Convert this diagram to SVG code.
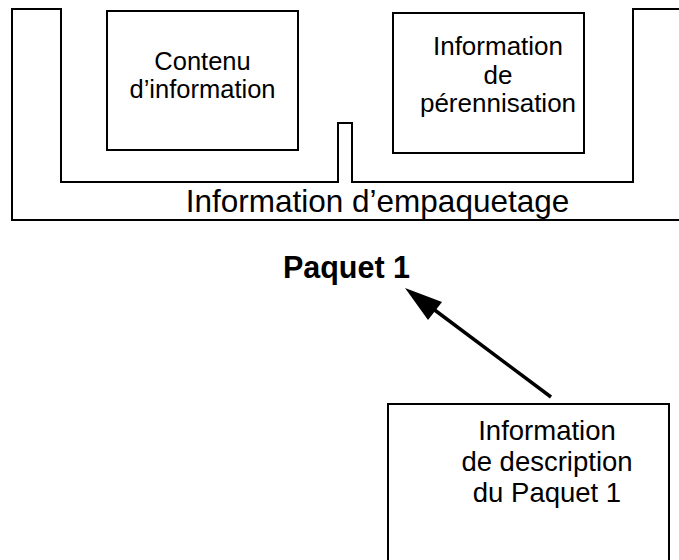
<svg xmlns="http://www.w3.org/2000/svg" width="679" height="560" viewBox="0 0 679 560">
<style>
.ln{fill:none;stroke:#000;stroke-width:2}
.t{font-family:"Liberation Sans",Arial,sans-serif;fill:#000;text-anchor:middle}
.s25{font-size:25.5px}
.s26{font-size:26px}
.s30{font-size:31.5px}
.b{font-weight:bold;font-size:30.5px}
.d{font-size:27.5px}
</style>
<rect width="679" height="560" fill="#fff"/>
<g id="packaging">
<path class="ln" d="M679,220 H12 V9 H61 V182 H338 V123 H352 V182 H633 V9 H679"/>
<text class="t s30" x="377.5" y="212">Information d’empaquetage</text>
</g>
<g id="content">
<rect class="ln" x="107" y="11" width="191" height="139"/>
<text class="t s25" x="202.5" y="70">Contenu</text>
<text class="t s25" x="202.5" y="98">d’information</text>
</g>
<g id="preservation">
<rect class="ln" x="393" y="13" width="191" height="140"/>
<text class="t s26" x="498" y="55">Information</text>
<text class="t s26" x="498" y="84">de</text>
<text class="t s26" x="498" y="112">pérennisation</text>
</g>
<g id="package">
<text class="t b" x="346.5" y="278">Paquet 1</text>
</g>
<g id="description">
<path class="ln" d="M388,562 V404 H669 V562"/>
<text class="t d" x="547" y="440">Information</text>
<text class="t d" x="547" y="471">de description</text>
<text class="t d" x="547" y="502">du Paquet 1</text>
</g>
<g id="connectors">
<line x1="551" y1="397" x2="432" y2="308" stroke="#000" stroke-width="3.5"/>
<polygon points="405,288 442,302 428,320" fill="#000"/>
</g>
</svg>
